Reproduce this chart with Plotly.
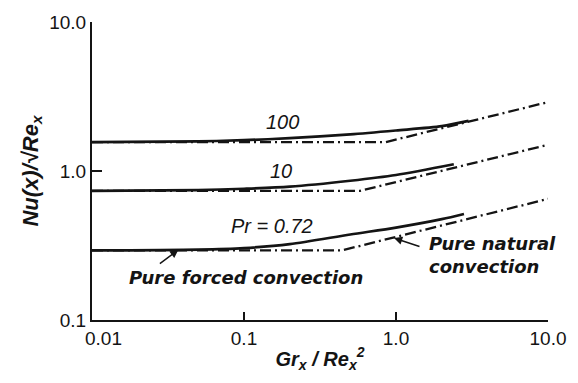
import math
import plotly.graph_objects as go

# Buoyancy parameter Gr_x / Re_x^2 and local Nusselt group Nu(x)/sqrt(Re_x)
# Mixed-convection curves (solid)
gr_mixed_100 = [0.01, 0.05, 0.1, 0.2, 0.5, 1.0, 2.0, 3.0]
nu_mixed_100 = [1.56, 1.58, 1.61, 1.66, 1.76, 1.87, 2.0, 2.17]

gr_mixed_10 = [0.01, 0.05, 0.1, 0.2, 0.5, 1.0, 2.4]
nu_mixed_10 = [0.735, 0.745, 0.76, 0.785, 0.86, 0.94, 1.11]

gr_mixed_072 = [0.01, 0.05, 0.1, 0.2, 0.5, 1.0, 2.0, 2.8]
nu_mixed_072 = [0.293, 0.297, 0.304, 0.323, 0.375, 0.417, 0.475, 0.515]

# Limiting cases (dash-dot): pure forced plateau, then pure natural asymptote
gr_limit_100 = [0.01, 0.85, 10.0]
nu_limit_100 = [1.56, 1.56, 2.9]

gr_limit_10 = [0.01, 0.58, 10.0]
nu_limit_10 = [0.735, 0.735, 1.5]

gr_limit_072 = [0.01, 0.44, 10.0]
nu_limit_072 = [0.293, 0.293, 0.65]

x_tick_vals = [0.1, 1.0, 10.0]
x_tick_text = ["0.1", "1.0", "10.0"]
x_origin_label = "0.01"
y_tick_vals = [0.1, 1.0, 10.0]
y_tick_text = ["0.1", "1.0", "10.0"]

INK = "#141414"
FONT = "Liberation Sans"
DASHDOT = "11px,4px,2px,4px"

fig = go.Figure()

for gx, ny in [(gr_limit_100, nu_limit_100), (gr_limit_10, nu_limit_10),
               (gr_limit_072, nu_limit_072)]:
    fig.add_trace(go.Scatter(x=gx, y=ny, mode="lines",
                             line=dict(color=INK, width=2.3, dash=DASHDOT),
                             hoverinfo="skip", showlegend=False))

for gx, ny in [(gr_mixed_100, nu_mixed_100), (gr_mixed_10, nu_mixed_10),
               (gr_mixed_072, nu_mixed_072)]:
    fig.add_trace(go.Scatter(x=gx, y=ny, mode="lines", line_shape="spline",
                             line=dict(color=INK, width=2.7, smoothing=0.8),
                             hoverinfo="skip", showlegend=False))

lg = math.log10
label_font = dict(family=FONT, size=20, color=INK)
note_font = dict(family="DejaVu Sans", size=18, color=INK)
tick_font = dict(family=FONT, size=19, color=INK)

# Origin label of the x axis, set slightly right of the corner
fig.add_annotation(x=lg(0.01), y=0, xref="x", yref="paper", text=x_origin_label,
                   showarrow=False, font=tick_font, xanchor="left", yanchor="top",
                   xshift=-9, yshift=-6)

# Prandtl-number labels
for txt, gx, ny in [("<i>100</i>", 0.178, 2.12), ("<i>10</i>", 0.176, 1.0),
                    ("<i>Pr = 0.72</i>", 0.153, 0.43)]:
    fig.add_annotation(x=lg(gx), y=lg(ny), text=txt, showarrow=False,
                       font=label_font, xanchor="center", yanchor="middle")

# Case descriptions with pointers
fig.add_annotation(x=lg(0.017), y=lg(0.192),
                   text="<b><i>Pure forced convection</i></b>",
                   showarrow=False, font=note_font, xanchor="left", yanchor="middle")
fig.add_annotation(x=lg(0.037), y=lg(0.296), text="", showarrow=True,
                   ax=-20, ay=15, arrowhead=2, arrowsize=1.1, arrowwidth=1.5,
                   arrowcolor=INK)
fig.add_annotation(x=lg(1.6), y=lg(0.271),
                   text="<b><i>Pure natural<br>convection</i></b>",
                   showarrow=False, font=note_font, xanchor="left", yanchor="middle",
                   align="left")
fig.add_annotation(x=lg(0.97), y=lg(0.355), text="", showarrow=True,
                   ax=27, ay=9, arrowhead=2, arrowsize=1.1, arrowwidth=1.5,
                   arrowcolor=INK)

fig.update_xaxes(type="log", range=[-2, 1], showgrid=False, zeroline=False,
                 showline=True, linecolor=INK, linewidth=2,
                 tickvals=x_tick_vals, ticktext=x_tick_text, ticks="",
                 tickfont=tick_font,
                 minor=dict(tickvals=[0.1, 1.0], ticks="inside", ticklen=8,
                            tickcolor=INK, tickwidth=1.5, showgrid=False),
                 title=dict(text="<b><i>Gr<sub>x</sub> / Re<sub>x</sub><sup>2</sup></i></b>",
                            font=dict(family=FONT, size=20, color=INK), standoff=4))
fig.update_yaxes(type="log", range=[-1, 1], showgrid=False, zeroline=False,
                 showline=True, linecolor=INK, linewidth=2,
                 tickvals=y_tick_vals, ticktext=y_tick_text, ticks="",
                 tickfont=tick_font,
                 minor=dict(tickvals=[1.0], ticks="inside", ticklen=10,
                            tickcolor=INK, tickwidth=1.5, showgrid=False),
                 title=dict(text="<b><i>Nu(x)/\u221aRe<sub>x</sub></i></b>",
                            font=dict(family=FONT, size=22, color=INK), standoff=5))

fig.update_layout(width=578, height=383,
                  margin=dict(l=92, r=28, t=20, b=63),
                  paper_bgcolor="white", plot_bgcolor="white")

fig.write_html("out.html")
